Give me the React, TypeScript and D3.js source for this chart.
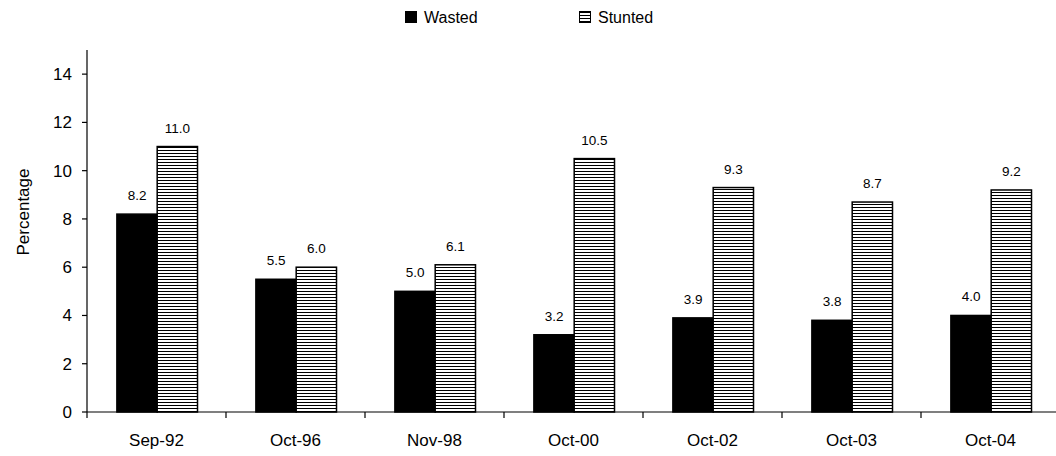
import React, { useEffect, useRef } from 'react';
import * as d3 from 'd3';

const categories = ['Sep-92', 'Oct-96', 'Nov-98', 'Oct-00', 'Oct-02', 'Oct-03', 'Oct-04'];
const series = ['Wasted', 'Stunted'];
const wasted = [8.2, 5.5, 5.0, 3.2, 3.9, 3.8, 4.0];
const stunted = [11.0, 6.0, 6.1, 10.5, 9.3, 8.7, 9.2];
const yTicks = [0, 2, 4, 6, 8, 10, 12, 14];

const W = 1056;
const H = 456;
const FONT = 'Arial, "Liberation Sans", sans-serif';

export default function App() {
  const svgRef = useRef<SVGSVGElement>(null);

  useEffect(() => {
    if (!svgRef.current) return;
    const svg = d3.select(svgRef.current);
    svg.selectAll('*').remove();

    // hatch pattern for the stunted bars
    const defs = svg.append('defs');
    const pat = defs
      .append('pattern')
      .attr('id', 'hatch')
      .attr('patternUnits', 'userSpaceOnUse')
      .attr('width', 8)
      .attr('height', 3);
    pat.append('rect').attr('width', 8).attr('height', 3).attr('fill', '#fff');
    pat.append('rect').attr('y', 0).attr('width', 8).attr('height', 1).attr('fill', '#000');

    const left = 87;
    const x = d3.scaleBand<string>().domain(categories).range([left, left + 139 * 7]);
    const bw = x.bandwidth();
    const xs = d3.scaleBand<string>().domain(series).range([bw * 0.215, bw * 0.795]);
    const y = d3.scaleLinear().domain([0, 15]).range([412, 50]);

    const data = categories.map((c, i) => ({ c, vals: [wasted[i], stunted[i]] }));

    const g = svg.append('g');

    // bars
    data.forEach(d => {
      d.vals.forEach((v, j) => {
        const s = series[j];
        g.append('rect')
          .attr('x', x(d.c)! + xs(s)!)
          .attr('y', y(v))
          .attr('width', xs.bandwidth())
          .attr('height', y(0) - y(v))
          .attr('fill', j === 0 ? '#000' : 'url(#hatch)')
          .attr('stroke', '#000')
          .attr('stroke-width', 1.5);
        g.append('text')
          .attr('x', x(d.c)! + xs(s)! + xs.bandwidth() / 2)
          .attr('y', y(v) - 14)
          .attr('text-anchor', 'middle')
          .style('font-family', FONT)
          .style('font-size', '13.5px')
          .text(v.toFixed(1));
      });
    });

    // y axis
    const yAxis = g.append('g').attr('transform', `translate(${left},0)`);
    yAxis.append('line').attr('x1', 0).attr('x2', 0).attr('y1', 50).attr('y2', 412).attr('stroke', '#000').attr('stroke-width', 1.2);
    yTicks.forEach(t => {
      yAxis.append('line').attr('x1', -5).attr('x2', 0).attr('y1', y(t)).attr('y2', y(t)).attr('stroke', '#000').attr('stroke-width', 1.2);
      yAxis.append('text')
        .attr('x', -15)
        .attr('y', y(t))
        .attr('dy', '0.35em')
        .attr('text-anchor', 'end')
        .style('font-family', FONT)
        .style('font-size', '17px')
        .text(t);
    });

    // x axis
    const xAxis = g.append('g').attr('transform', `translate(0,${y(0)})`);
    xAxis.append('line').attr('x1', left).attr('x2', left + 139 * 7).attr('stroke', '#000').attr('stroke-width', 1.2);
    categories.forEach(c => {
      xAxis.append('line').attr('x1', x(c)!).attr('x2', x(c)!).attr('y1', 0).attr('y2', 6).attr('stroke', '#000').attr('stroke-width', 1.2);
      xAxis.append('text')
        .attr('x', x(c)! + bw / 2)
        .attr('y', 34)
        .attr('text-anchor', 'middle')
        .style('font-family', FONT)
        .style('font-size', '17px')
        .text(c);
    });

    // y label
    svg.append('text')
      .attr('transform', 'translate(29,212) rotate(-90)')
      .attr('text-anchor', 'middle')
      .style('font-family', FONT)
      .style('font-size', '17px')
      .text('Percentage');

    // legend
    const leg = svg.append('g');
    const items = [
      { s: 'Wasted', x: 405, fill: '#000' },
      { s: 'Stunted', x: 579, fill: 'url(#hatch)' }
    ];
    items.forEach(it => {
      leg.append('rect')
        .attr('x', it.x + 0.5)
        .attr('y', 11.5)
        .attr('width', 11)
        .attr('height', 11)
        .attr('fill', it.fill)
        .attr('stroke', '#000')
        .attr('stroke-width', 1);
      leg.append('text')
        .attr('x', it.x + 19)
        .attr('y', 17)
        .attr('dy', '0.35em')
        .style('font-family', FONT)
        .style('font-size', '16px')
        .text(it.s);
    });
  }, []);

  return (
    <svg
      ref={svgRef}
      width={W}
      height={H}
      style={{ position: 'absolute', left: 0, top: 0, background: '#fff' }}
    />
  );
}
